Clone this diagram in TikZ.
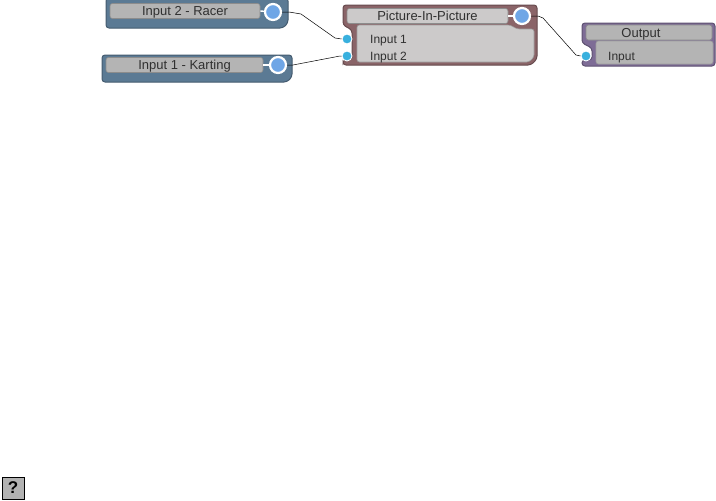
\documentclass[tikz,border=0pt]{standalone}
\usepackage{fontspec}
\setmainfont{Liberation Sans}
\usepackage{xcolor}
\usetikzlibrary{positioning}
\definecolor{inshell}{HTML}{5B7A94}
\definecolor{pipshell}{HTML}{8A6468}
\definecolor{outshell}{HTML}{7E6C96}
\definecolor{bartitle}{HTML}{B4B4B4}
\definecolor{barbody}{HTML}{CCCACA}
\definecolor{portout}{HTML}{6FA6E6}
\definecolor{portin}{HTML}{38B0DE}
\definecolor{inktext}{HTML}{303030}
\begin{document}
\begin{tikzpicture}[
    x=1pt, y=-1pt,
    shell/.style={rounded corners=3pt, line width=1pt},
    titlebar/.style={draw=white!55!black, fill=bartitle, rounded corners=2.5pt, line width=0.6pt, inner sep=0pt, text=inktext, text height=9.3pt, text depth=0pt, font=\fontsize{13}{14}\selectfont},
    bodybox/.style={draw=white!62!black, fill=barbody, rounded corners=2.5pt, line width=0.6pt},
    outport/.style={circle, draw=white, fill=portout, line width=2.2pt, minimum size=16pt, inner sep=0pt},
    inport/.style={circle, draw=white, fill=portin, line width=0.9pt, minimum size=10pt, inner sep=0pt},
    portstub/.style={white, line width=1.4pt},
    label/.style={inner sep=0pt, anchor=west, text=inktext, text height=8.6pt, text depth=0pt, font=\fontsize{12}{14}\selectfont},
    wire/.style={black, line width=0.5pt}
]
\useasboundingbox (0,0) rectangle (716,501);
% input sources
\filldraw[shell, fill=inshell, draw=inshell!75!black] (106,-2) -- (288,-2) -- (288,23) -- (283,28) -- (106,28) -- cycle;
\node[titlebar, minimum width=150pt, minimum height=15pt] (racer) at (185,11) {Input 2 - Racer};
\node[outport] (racerout) at (273,12) {};
\draw[portstub] (racer.east) -- (racerout);
\filldraw[shell, fill=inshell, draw=inshell!75!black] (102,55) -- (292,55) -- (292,77) -- (287,82) -- (102,82) -- cycle;
\node[titlebar, minimum width=157pt, minimum height=15pt] (karting) at (184.5,65) {Input 1 - Karting};
\node[outport] (kartingout) at (278,65) {};
\draw[portstub] (karting.east) -- (kartingout);
% picture in picture
\filldraw[shell, fill=pipshell, draw=pipshell!75!black] (343,5) -- (537,5) -- (537,59) -- (531,65) -- (343,65) -- (343,60) -- (352,60) -- (352,30) -- (343,25) -- cycle;
\node[titlebar, fill=barbody, minimum width=161pt, minimum height=15pt] (pip) at (427.5,16) {Picture-In-Picture};
\fill[bodybox] (357,25) -- (510,25) -- (517,29) -- (534,29) -- (534,57) -- (529,62) -- (357,62) -- cycle;
\node[outport] (pipout) at (522,16) {};
\draw[portstub] (pip.east) -- (pipout);
\node[inport] (pipa) at (347,39) {};
\node[inport] (pipb) at (347,56) {};
\node[label] (pipalabel) at (370,39) {Input 1};
\node[label] (pipblabel) at (370,56) {Input 2};
% output
\filldraw[shell, fill=outshell, draw=outshell!75!black] (582,23) -- (715,23) -- (715,66) -- (582,66) -- (582,60) -- (592,60) -- (592,48) -- (582,43) -- cycle;
\node[titlebar, minimum width=126pt, minimum height=15pt] (output) at (649,32.5) {\hspace*{-16pt}Output};
\fill[bodybox, fill=bartitle] (596,41) -- (713,41) -- (713,64) -- (596,64) -- cycle;
\node[inport] (outin) at (586,56) {};
\node[label] (outinlabel) at (608,56) {Input};
% wires
\draw[wire] (racerout.east) -- (289,12) -- (301,14) -- (335,38) -- (pipa.west);
\draw[wire] (kartingout.east) -- (293,65) -- (340,56) -- (pipb.west);
\draw[wire] (pipout.east) -- (538,16) -- (543,18) -- (576,55) -- (outin.west);
% help button
\node[draw=black, fill=white!70!black, line width=0.8pt, minimum size=22pt, inner sep=0pt, font=\bfseries\fontsize{17}{17}\selectfont] (help) at (13,488) {?};
\end{tikzpicture}
\end{document}
